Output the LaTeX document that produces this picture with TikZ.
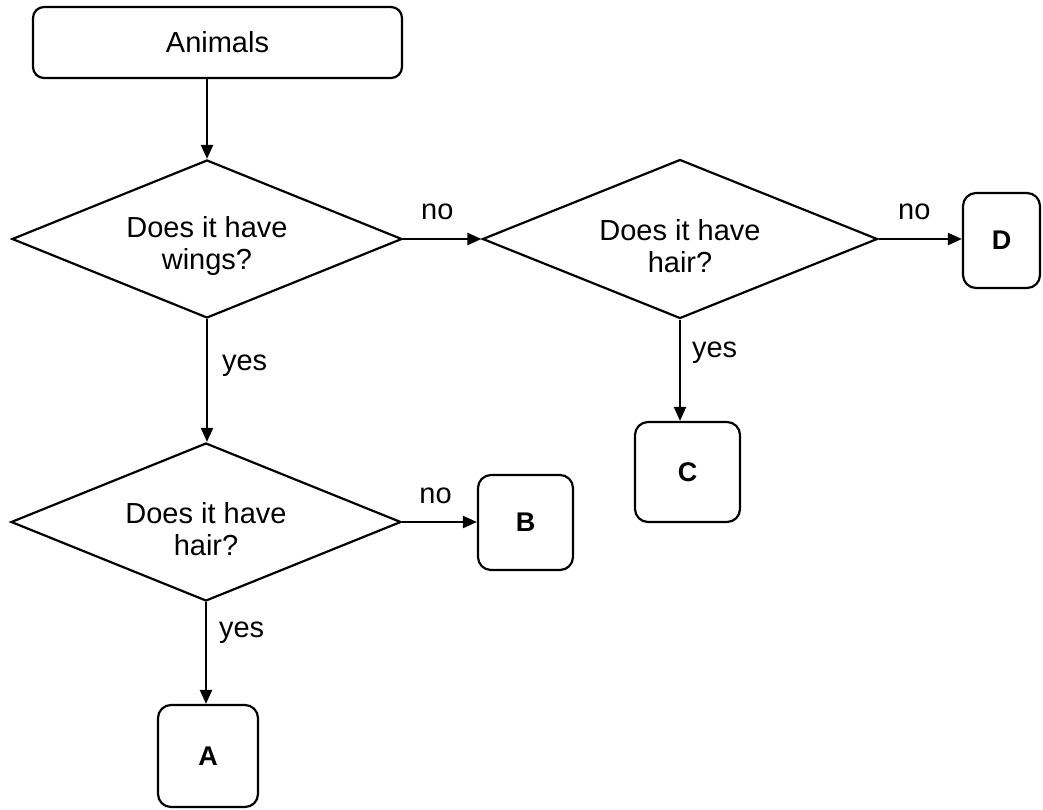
\documentclass[tikz,border=0pt]{standalone}
\usepackage{fontspec}
\setmainfont{Liberation Sans}
\usetikzlibrary{shapes.geometric,arrows.meta}
\begin{document}
\begin{tikzpicture}[x=1pt,y=-1pt,
  every node/.style={font=\fontsize{29}{32}\selectfont},
  arr/.style={line width=2.2pt,-{Triangle[length=14pt,width=12pt]}},
  decision/.style={draw,line width=2.2pt,diamond,shape aspect=2.47,inner sep=0pt},
  qtext/.style={align=center,yshift=-7pt,inner sep=0pt},
  startbox/.style={draw,line width=2.2pt,rounded corners=11pt},
  endbox/.style={draw,line width=2.2pt,rounded corners=13pt,font=\fontsize{27}{32}\selectfont\bfseries},
  lbl/.style={inner sep=0pt}
]
\useasboundingbox (0,0) rectangle (1043,809);
\node[startbox,minimum width=369pt,minimum height=71pt] (animals) at (217.5,42.5) {Animals};
\node[decision,minimum width=390pt,minimum height=158pt,
  label={[qtext]center:Does it have\\wings?}] (d1) at (207,239) {};
\node[decision,minimum width=395pt,minimum height=159pt,
  label={[qtext]center:Does it have\\hair?}] (d2) at (680,239) {};
\node[decision,minimum width=390pt,minimum height=158pt,
  label={[qtext]center:Does it have\\hair?}] (d3) at (206,522) {};
\node[endbox,minimum width=100pt,minimum height=102pt] (A) at (208,756) {A};
\node[endbox,minimum width=95pt,minimum height=95pt] (B) at (525.5,522.5) {B};
\node[endbox,minimum width=105pt,minimum height=100pt] (C) at (687.5,472) {C};
\node[endbox,minimum width=77pt,minimum height=95pt] (D) at (1001.5,240.5) {D};

\draw[arr] (animals.south -| d1.north) -- (d1.north);
\draw[arr] (d1.east) -- node[lbl,midway,yshift=27pt,xshift=-5pt] {no} (d2.west);
\draw[arr] (d2.east) -- node[lbl,midway,yshift=27pt,xshift=-6pt] {no} (D.west |- d2.east);
\draw[arr] (d1.south) -- node[lbl,pos=0.38,anchor=west,xshift=14pt] {yes} (d1.south |- d3.north);
\draw[arr] (d3.east) -- node[lbl,midway,yshift=26pt,xshift=-4pt] {no} (B.west |- d3.east);
\draw[arr] (d3.south) -- node[lbl,pos=0.30,anchor=west,xshift=12pt] {yes} (d3.south |- A.north);
\draw[arr] (d2.south) -- node[lbl,pos=0.33,anchor=west,xshift=11pt] {yes} (d2.south |- C.north);
\end{tikzpicture}
\end{document}
